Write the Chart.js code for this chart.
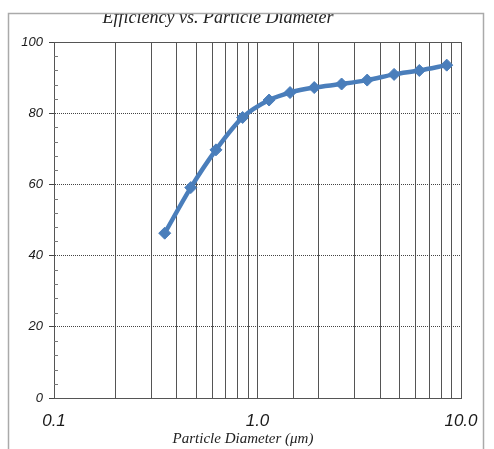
<!DOCTYPE html>
<html>
<head>
<meta charset="utf-8">
<script src="https://cdn.jsdelivr.net/npm/chart.js@4.4.0/dist/chart.umd.min.js"></script>
<style>
  html, body { margin: 0; padding: 0; background: #fff; }
  #wrap { position: relative; width: 494px; height: 449px; }
</style>
</head>
<body>
<div id="wrap"><canvas id="effChart"></canvas></div>
<script>
// Particle diameter (um) and collection efficiency (%)
const diameters  = [0.35, 0.47, 0.625, 0.845, 1.14, 1.445, 1.90, 2.59, 3.46, 4.69, 6.24, 8.51];
const efficiency = [46.3, 59.1, 69.7, 78.8, 83.7, 85.8, 87.2, 88.2, 89.3, 90.9, 92.0, 93.5];

// Tick labels
const xLabelValues = [0.1, 1, 10];
const xLabelText   = ['0.1', '1.0', '10.0'];
const yTickValues  = [0, 20, 40, 60, 80, 100];

const chartTitle = 'Efficiency vs. Particle Diameter';
const xAxisTitle = 'Particle Diameter (\u03bcm)';

const lineBlue = '#4a7ebb';

/**
 * Background, plot frame, minor ticks and titles
 */
const decorPlugin = {
    id: 'decor',
    beforeDraw(chart) {
        const ctx = chart.ctx;
        ctx.save();
        ctx.fillStyle = '#fff';
        ctx.fillRect(0, 0, chart.width, chart.height);
        ctx.restore();
    },
    beforeDatasetsDraw(chart) {
        const ctx = chart.ctx;
        const a = chart.chartArea;
        const y = chart.scales.y;
        ctx.save();
        // solid plot border
        ctx.strokeStyle = '#555';
        ctx.lineWidth = 1;
        ctx.strokeRect(a.left + 0.5, a.top + 0.5, a.right - a.left, a.bottom - a.top);
        // minor ticks on the value axis
        ctx.strokeStyle = '#777';
        ctx.beginPath();
        for (let v = 4; v < 100; v += 4) {
            if (v % 20 === 0) continue;
            const py = Math.round(y.getPixelForValue(v)) + 0.5;
            ctx.moveTo(a.left, py);
            ctx.lineTo(a.left + 4, py);
        }
        ctx.stroke();
        ctx.restore();
    },
    afterDraw(chart) {
        const ctx = chart.ctx;
        ctx.save();
        ctx.fillStyle = '#222';
        ctx.textAlign = 'center';
        ctx.textBaseline = 'alphabetic';
        ctx.font = 'italic 18px "Liberation Serif", "DejaVu Serif", serif';
        ctx.fillText(chartTitle, 218, 23);
        // the source picture is cut off above the frame
        ctx.fillStyle = '#fff';
        ctx.fillRect(0, 0, chart.width, 13);
        ctx.fillStyle = '#222';
        ctx.font = 'italic 15px "Liberation Serif", "DejaVu Serif", serif';
        ctx.fillText(xAxisTitle, 243, 443);
        // outer frame
        ctx.strokeStyle = '#aaa';
        ctx.lineWidth = 1.5;
        ctx.strokeRect(8.5, 13.5, 475, 460);
        ctx.restore();
    }
};

const ctx = document.getElementById('effChart').getContext('2d');

const chart = new Chart(ctx, {
    type: 'line',
    data: {
        datasets: [{
            label: 'Efficiency',
            data: diameters.map((d, i) => ({ x: d, y: efficiency[i] })),
            borderColor: lineBlue,
            backgroundColor: lineBlue,
            borderWidth: 4.5,
            pointStyle: 'rectRot',
            pointRadius: 6,
            pointHoverRadius: 6,
            pointBorderWidth: 1,
            cubicInterpolationMode: 'monotone',
            fill: false
        }]
    },
    plugins: [decorPlugin],
    options: {
        responsive: true,
        maintainAspectRatio: false,
        animation: false,
        layout: {
            padding: { left: 0, top: 42, right: 33, bottom: 0 }
        },
        plugins: {
            legend: { display: false },
            title: { display: false },
            tooltip: { enabled: false }
        },
        scales: {
            x: {
                type: 'logarithmic',
                min: 0.1,
                max: 10,
                afterFit(scale) { scale.height = 51; },
                grid: {
                    color: '#555',
                    lineWidth: 1,
                    drawTicks: false
                },
                border: { color: '#555' },
                ticks: {
                    autoSkip: false,
                    maxRotation: 0,
                    padding: 13,
                    color: '#1a1a1a',
                    font: { family: '"Liberation Sans", Arial, sans-serif', size: 17, style: 'italic' },
                    callback(value) {
                        const i = xLabelValues.findIndex(v => Math.abs(v - value) < 1e-9);
                        return i >= 0 ? xLabelText[i] : '';
                    }
                }
            },
            y: {
                min: 0,
                max: 100,
                afterFit(scale) { scale.width = 54; },
                afterBuildTicks(scale) {
                    scale.ticks = yTickValues.map(v => ({ value: v }));
                },
                grid: {
                    color: '#444',
                    lineWidth: 1,
                    tickLength: 5
                },
                border: { color: '#555', dash: [1, 1] },
                ticks: {
                    padding: 6,
                    color: '#1a1a1a',
                    font: { family: '"Liberation Sans", Arial, sans-serif', size: 13, style: 'italic' }
                }
            }
        }
    }
});
</script>
</body>
</html>
